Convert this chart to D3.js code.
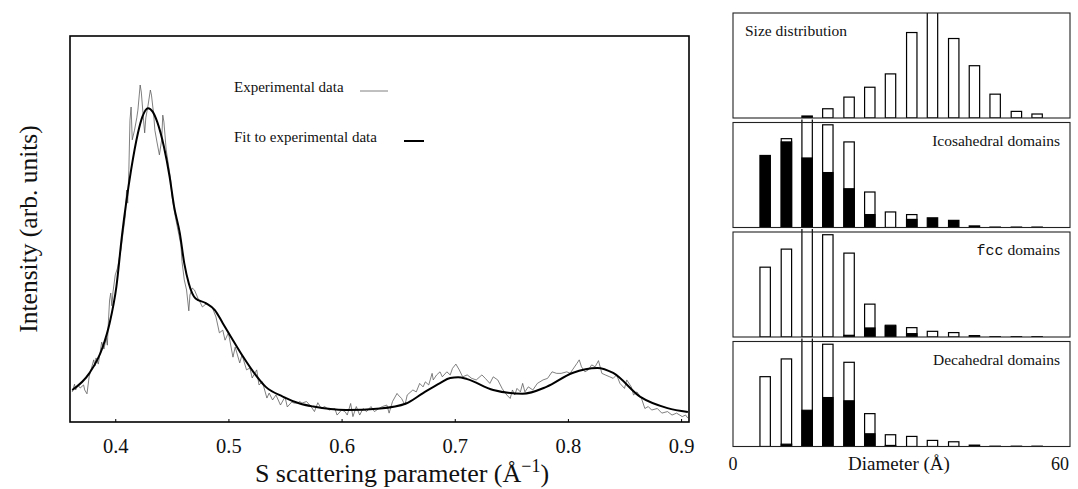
<!DOCTYPE html>
<html>
<head>
<meta charset="utf-8">
<script src="https://cdn.jsdelivr.net/npm/d3@7"></script>
<style>
  html, body { margin: 0; padding: 0; background: #fff; }
  svg { display: block; }
</style>
</head>
<body>
<svg id="chart" width="1078" height="489"></svg>
<script>
// ---------------- data: left panel ----------------
const xTicks = [0.4, 0.5, 0.6, 0.7, 0.8, 0.9];

const fitS = [0.362,0.377,0.389,0.395,0.401,0.406,0.414,0.420,0.424,0.429,0.433,0.437,0.443,0.448,0.452,0.457,0.461,0.465,0.471,0.480,0.488,0.495,0.504,0.513,0.522,0.533,0.548,0.563,0.575,0.604,0.634,0.657,0.672,0.687,0.696,0.703,0.711,0.734,0.760,0.781,0.804,0.826,0.840,0.864,0.888,0.906];
const fitI = [8.3,12.6,19.5,25.6,35.1,48.5,65.3,74.8,79.1,81.3,80.4,77.8,71.3,63.6,55.8,49.0,41.1,35.9,32.0,30.8,29.0,25.6,21.2,16.9,13.0,9.1,6.6,4.8,4.0,3.1,3.5,4.8,7.5,10.1,11.4,11.6,11.1,8.3,7.3,9.1,12.7,14.0,12.7,6.5,3.6,2.6];

const expS = [0.362,0.364,0.365,0.367,0.369,0.372,0.373,0.375,0.377,0.379,0.381,0.382,0.383,0.385,0.387,0.388,0.390,0.392,0.393,0.394,0.395,0.396,0.397,0.398,0.400,
  0.402,0.404,0.405,0.407,0.409,0.410,0.411,0.412,0.413,0.414,0.415,0.417,0.419,0.420,0.422,0.423,0.425,0.426,0.427,0.429,0.431,0.432,0.434,0.435,0.437,0.439,0.441,0.442,0.443,0.445,0.447,0.449,0.450,0.452,0.454,0.455,
  0.458,0.459,0.461,0.463,0.465,0.466,0.468,0.470,0.473,0.474,0.477,0.481,0.486,0.489,0.492,0.495,0.497,0.500,0.504,0.506,0.510,0.512,0.516,0.519,0.521,0.525,0.527,0.530,0.534,0.536,0.539,0.542,0.546,0.550,0.552,0.556,0.558,0.561,
  0.563,0.565,0.569,0.573,0.576,0.579,0.582,0.585,0.589,0.594,0.596,0.600,0.603,0.605,0.608,0.610,0.613,0.616,0.619,0.622,0.626,0.629,0.633,0.636,0.640,0.642,0.645,0.649,0.650,0.653,0.656,0.658,0.663,0.666,0.669,0.672,0.674,0.677,0.680,0.681,0.684,0.687,0.689,0.693,0.696,0.698,0.701,0.704,0.707,0.711,0.715,0.719,0.724,0.727,0.731,0.734,0.738,
  0.742,0.746,0.749,0.751,0.753,0.755,0.758,0.760,0.762,0.765,0.769,0.773,0.778,0.782,0.786,0.790,0.794,0.799,0.802,0.804,0.808,0.810,0.812,0.815,0.818,0.821,0.824,0.827,0.830,0.833,0.837,0.840,0.843,0.846,0.850,0.852,0.856,0.858,0.861,0.865,0.868,0.871,0.874,0.879,0.883,0.888,0.892,0.896,0.901,0.904,0.906];
const expI = [7.8,9.8,8.3,9.6,8.8,9.6,8.3,7.3,11.9,14.0,16.1,14.5,16.6,15.0,18.7,20.7,18.9,21.8,19.9,26.4,31.6,33.4,30.1,33.7,38.1,
  39.9,43.3,44.6,49.2,53.6,60.1,56.7,65.3,78.2,81.6,73.1,75.6,78.8,80.8,87.3,85.5,78.2,74.9,78.8,82.1,86.0,84.7,79.5,75.6,72.3,69.2,73.1,79.5,77.7,70.5,66.6,62.7,58.8,54.9,51.8,50.3,
  45.9,41.5,36.8,34.2,28.8,32.9,34.7,34.2,32.1,31.6,29.8,30.8,29.5,27.2,23.1,23.8,21.2,23.1,16.8,19.4,15.3,17.4,13.5,14.0,11.4,13.5,9.6,10.4,6.2,7.5,5.7,7.0,4.4,6.5,3.9,5.2,4.9,4.9,
  5.3,4.9,5.3,4.0,2.7,5.0,3.5,4.0,3.1,3.5,1.8,3.1,2.7,1.8,4.8,1.4,4.0,1.8,3.5,2.7,4.0,2.7,3.5,4.0,4.4,2.3,5.3,7.4,7.0,6.1,4.4,7.0,8.3,7.8,10.0,9.1,10.4,9.6,12.6,10.9,12.2,13.0,11.7,13.0,12.2,13.9,15.0,13.5,11.7,12.2,11.3,10.9,12.2,11.3,10.0,11.7,10.9,
  8.6,7.0,6.1,8.3,7.0,8.7,7.8,10.0,7.8,9.1,8.3,10.0,10.9,11.3,13.0,12.6,12.6,13.0,12.6,13.5,15.2,16.1,14.3,13.0,13.5,14.8,14.3,15.9,12.6,12.2,11.7,11.3,12.2,10.0,8.7,10.9,9.1,7.0,7.8,6.1,3.5,4.0,3.1,3.5,2.3,2.7,1.8,2.3,1.4,1.8,1.0];

// ---------------- data: right panels ----------------
const panelNames = ["Size distribution", "Icosahedral domains", "fcc domains", "Decahedral domains"];
const diameters = [5.9, 9.8, 13.6, 17.4, 21.3, 25.1, 28.9, 32.8, 36.6, 40.5, 44.3, 48.1, 52.0, 55.8];
const diamTicks = [0, 60];
const sizeTotal = [0, 0, 1.9, 8.8, 19.9, 29.3, 42.0, 81.4, 125, 75.7, 49.8, 22.7, 6.3, 3.8];
const sizeBlack = [0, 0, 1.9, 0, 0, 0, 0, 0, 0, 0, 0, 0, 0, 0];
const icoTotal = [68.6, 84.6, 130, 97.8, 81.5, 33.8, 14.8, 12.3, 9.2, 6.8, 1.5, 0.4, 0.4, 0.4];
const icoBlack = [68.6, 81.5, 66.2, 52.3, 36.9, 12.3, 0, 7.7, 9.2, 6.8, 1.5, 0, 0, 0];
const fccTotal = [66.5, 83.7, 130, 97.4, 79.9, 31.3, 11.2, 8.9, 5.4, 4.2, 1.3, 0.3, 0.3, 0.3];
const fccBlack = [0, 0, 0, 0, 1.6, 8.6, 10.5, 3.2, 0, 0, 1.3, 0, 0, 0];
const decTotal = [66.5, 83.4, 130, 97.4, 80.2, 31.3, 11.2, 9.6, 5.8, 4.5, 1.3, 0.3, 0.3, 0.3];
const decBlack = [0, 2.2, 34.5, 46.6, 43.5, 12.1, 1.0, 0, 0, 0, 1.3, 0, 0, 0];

// ---------------- drawing ----------------
const svg = d3.select("#chart");
const SERIF = "'Liberation Serif', 'Times New Roman', serif";

// Left plot
const L = {x0: 70, x1: 689, y0: 36, y1: 422};
const x = d3.scaleLinear().domain([0.36, 0.907]).range([L.x0, L.x1]);
const y = d3.scaleLinear().domain([0, 100]).range([L.y1, L.y0]);

const left = svg.append("g");
left.append("defs").append("clipPath").attr("id", "clipL")
  .append("rect").attr("x", L.x0).attr("y", L.y0).attr("width", L.x1 - L.x0).attr("height", L.y1 - L.y0);

const expData = expS.map((s, i) => [s, expI[i]]);
const fitData = fitS.map((s, i) => [s, fitI[i]]);

left.append("path").datum(expData)
  .attr("clip-path", "url(#clipL)")
  .attr("fill", "none").attr("stroke", "#555").attr("stroke-width", 0.75)
  .attr("d", d3.line().x(d => x(d[0])).y(d => y(d[1])));

left.append("path").datum(fitData)
  .attr("clip-path", "url(#clipL)")
  .attr("fill", "none").attr("stroke", "#000").attr("stroke-width", 2)
  .attr("d", d3.line().curve(d3.curveMonotoneX).x(d => x(d[0])).y(d => y(d[1])));

const xAxis = left.append("g").attr("transform", `translate(0,${L.y1})`)
  .call(d3.axisBottom(x).tickValues(xTicks).tickSize(-3).tickPadding(16).tickFormat(d3.format(".1f")));
xAxis.select(".domain").remove();
xAxis.selectAll(".tick line").attr("stroke", "#000");
xAxis.selectAll(".tick text").attr("font-family", SERIF).attr("font-size", 20.5).attr("fill", "#111");

left.append("rect").attr("x", L.x0).attr("y", L.y0).attr("width", L.x1 - L.x0).attr("height", L.y1 - L.y0)
  .attr("fill", "none").attr("stroke", "#000").attr("stroke-width", 1.6);

// axis titles
const xt = left.append("text").attr("x", 402).attr("y", 482).attr("text-anchor", "middle")
  .attr("font-family", SERIF).attr("font-size", 26).attr("fill", "#111");
xt.append("tspan").text("S scattering parameter (Å");
xt.append("tspan").attr("font-size", 18).attr("dy", -10).text("−1");
xt.append("tspan").attr("dy", 10).text(")");

left.append("text").attr("transform", "translate(37,229) rotate(-90)").attr("text-anchor", "middle")
  .attr("font-family", SERIF).attr("font-size", 25.5).attr("fill", "#111")
  .text("Intensity (arb. units)");

// legend
const leg = left.append("g").attr("font-family", SERIF).attr("font-size", 15).attr("fill", "#111");
leg.append("text").attr("x", 234).attr("y", 92).text("Experimental data");
leg.append("line").attr("x1", 360).attr("x2", 388).attr("y1", 91).attr("y2", 91).attr("stroke", "#555").attr("stroke-width", 0.75);
leg.append("text").attr("x", 234).attr("y", 142).text("Fit to experimental data");
leg.append("line").attr("x1", 404).attr("x2", 424).attr("y1", 141).attr("y2", 141).attr("stroke", "#000").attr("stroke-width", 2);

// Right panels
const R = {x0: 733, x1: 1070};
const panelTops = [13, 122.5, 232, 341.5];
const panelH = 105;
const xd = d3.scaleLinear().domain([0, 60]).range([733, 1060]);
const barW = 10.4;
const totals = [sizeTotal, icoTotal, fccTotal, decTotal];
const blacks = [sizeBlack, icoBlack, fccBlack, decBlack];

panelNames.forEach((name, p) => {
  const top = panelTops[p];
  const over = p === 0 ? 0 : 3;
  const yv = d3.scaleLinear().domain([0, 100]).range([top + panelH, top]);
  const g = svg.append("g");
  g.append("clipPath").attr("id", "clipP" + p)
    .append("rect").attr("x", R.x0).attr("y", top - over).attr("width", R.x1 - R.x0).attr("height", panelH + over);
  const bars = g.append("g").attr("clip-path", `url(#clipP${p})`);
  const rows = diameters.map((d, i) => ({d, t: totals[p][i], b: blacks[p][i]}));
  bars.selectAll("rect.tot").data(rows.filter(r => r.t > 0 && r.t > r.b)).join("rect")
    .attr("class", "tot")
    .attr("x", r => xd(r.d) - barW / 2).attr("width", barW)
    .attr("y", r => yv(r.t)).attr("height", r => yv(0) - yv(r.t))
    .attr("fill", "#fff").attr("stroke", "#000").attr("stroke-width", 1.2);
  bars.selectAll("rect.blk").data(rows.filter(r => r.b > 0)).join("rect")
    .attr("class", "blk")
    .attr("x", r => xd(r.d) - barW / 2).attr("width", barW)
    .attr("y", r => yv(r.b)).attr("height", r => yv(0) - yv(r.b))
    .attr("fill", "#000").attr("stroke", "#000").attr("stroke-width", 1.2);

  g.append("rect").attr("x", R.x0).attr("y", top).attr("width", R.x1 - R.x0).attr("height", panelH)
    .attr("fill", "none").attr("stroke", "#222").attr("stroke-width", 1.1);

  const t = g.append("text").attr("font-family", SERIF).attr("font-size", 15.5).attr("fill", "#111")
    .attr("y", top + 23);
  if (p === 0) {
    t.attr("x", 745).attr("text-anchor", "start").text(name);
  } else if (p === 2) {
    t.attr("x", 1060).attr("text-anchor", "end");
    t.append("tspan").attr("font-family", "'Liberation Mono', monospace").attr("font-size", 15).text("fcc");
    t.append("tspan").text(" domains");
  } else {
    t.attr("x", 1060).attr("text-anchor", "end").text(name);
  }
});

svg.append("g").selectAll("text.dt").data(diamTicks).join("text")
  .attr("class", "dt").attr("x", d => xd(d)).attr("y", 470).attr("text-anchor", "middle")
  .attr("font-family", SERIF).attr("font-size", 18).attr("fill", "#111").text(d => d);
svg.append("text").attr("x", 899).attr("y", 470).attr("text-anchor", "middle")
  .attr("font-family", SERIF).attr("font-size", 19).attr("fill", "#111").text("Diameter (Å)");
</script>
</body>
</html>
